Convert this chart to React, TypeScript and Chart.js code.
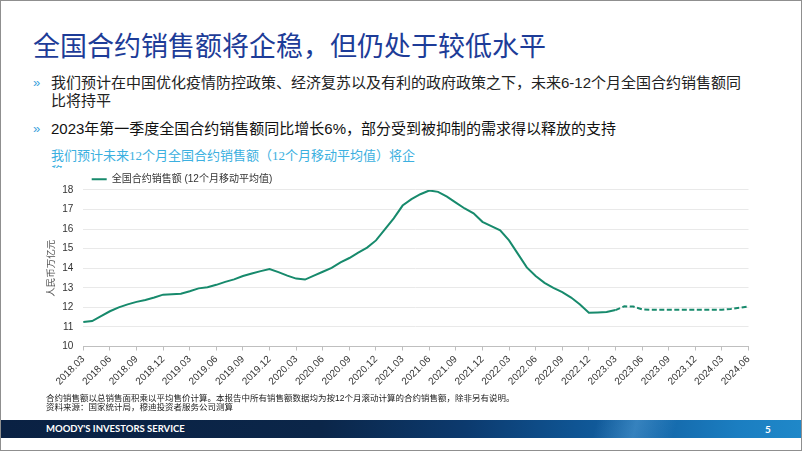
import { useEffect, useRef } from 'react';
import { Chart, registerables } from 'chart.js';

Chart.register(...registerables);

// Monthly categories 2018.03 – 2024.06
const months: string[] = [
  '2018.03', '2018.04', '2018.05', '2018.06', '2018.07', '2018.08', '2018.09', '2018.10', '2018.11', '2018.12',
  '2019.01', '2019.02', '2019.03', '2019.04', '2019.05', '2019.06', '2019.07', '2019.08', '2019.09', '2019.10', '2019.11', '2019.12',
  '2020.01', '2020.02', '2020.03', '2020.04', '2020.05', '2020.06', '2020.07', '2020.08', '2020.09', '2020.10', '2020.11', '2020.12',
  '2021.01', '2021.02', '2021.03', '2021.04', '2021.05', '2021.06', '2021.07', '2021.08', '2021.09', '2021.10', '2021.11', '2021.12',
  '2022.01', '2022.02', '2022.03', '2022.04', '2022.05', '2022.06', '2022.07', '2022.08', '2022.09', '2022.10', '2022.11', '2022.12',
  '2023.01', '2023.02', '2023.03', '2023.04', '2023.05', '2023.06', '2023.07', '2023.08', '2023.09', '2023.10', '2023.11', '2023.12',
  '2024.01', '2024.02', '2024.03', '2024.04', '2024.05', '2024.06',
];

// Actual 12-month moving average, 2018.03 – 2023.03 (RMB trillion)
const actualSales: number[] = [
  11.25, 11.3, 11.55, 11.8, 12.0, 12.15, 12.28, 12.38, 12.5, 12.65,
  12.67, 12.7, 12.82, 12.97, 13.03, 13.15, 13.3, 13.43, 13.6, 13.73, 13.85, 13.96,
  13.8, 13.62, 13.47, 13.42, 13.62, 13.82, 14.02, 14.3, 14.52, 14.8, 15.05, 15.42,
  15.98, 16.55, 17.2, 17.53, 17.78, 17.97, 17.9, 17.66, 17.35, 17.05, 16.8, 16.37,
  16.15, 15.93, 15.42, 14.73, 14.04, 13.6, 13.25, 13.0, 12.78, 12.5, 12.15, 11.72,
  11.74, 11.76, 11.86,
];

// Forecast, 2023.03 – 2024.06
const forecastSales: number[] = [
  11.86, 12.05, 12.04, 11.9, 11.88, 11.88, 11.88, 11.88, 11.88, 11.88, 11.88, 11.88, 11.88, 11.92, 11.98, 12.05,
];

const seriesName = '全国合约销售额 (12个月移动平均值)';
const yAxisTitle = '人民币万亿元';
const yMin = 10;
const yMax = 18;

const LINE = '#178a6c';
const FONT = "'Liberation Sans', 'Noto Sans CJK SC', sans-serif";
const CJK = "'Liberation Sans', 'Noto Sans CJK SC', sans-serif";

export default function App() {
  const ref = useRef<HTMLCanvasElement>(null);

  useEffect(() => {
    document.body.style.margin = '0';
    const canvas = ref.current!;
    const fStart = actualSales.length - 1;
    const actualData = months.map((_, i) => (i < actualSales.length ? actualSales[i] : null));
    const forecastData = months.map((_, i) =>
      i >= fStart && i - fStart < forecastSales.length ? forecastSales[i - fStart] : null
    );

    const chart = new Chart(canvas, {
      type: 'line',
      data: {
        labels: months,
        datasets: [
          {
            label: seriesName,
            data: actualData,
            borderColor: LINE,
            backgroundColor: LINE,
            borderWidth: 2,
            pointRadius: 0,
            tension: 0,
          },
          {
            label: '预测',
            data: forecastData,
            borderColor: LINE,
            backgroundColor: LINE,
            borderWidth: 2,
            borderDash: [5, 2.5],
            pointRadius: 0,
            tension: 0,
          },
        ],
      },
      options: {
        responsive: false,
        animation: false,
        events: [],
        layout: { padding: { top: 3.9, left: 0, right: 10, bottom: 1.5 } },
        plugins: {
          tooltip: { enabled: false },
          legend: {
            display: true,
            position: 'top',
            align: 'start',
            fullSize: false,
            maxHeight: 24,
            labels: {
              filter: (item: any) => item.datasetIndex === 0,
              usePointStyle: true,
              pointStyle: 'line',
              pointStyleWidth: 15,
              padding: 8.4,
              color: '#333',
              font: { family: CJK, size: 10 },
            },
          } as any,
        },
        scales: {
          x: {
            type: 'category',
            offset: false,
            afterFit: (s: any) => {
              s.height = 48;
            },
            grid: {
              display: true,
              drawOnChartArea: false,
              drawTicks: true,
              tickLength: 4,
              color: (c: any) => (c.index % 3 === 0 ? '#bfbfbf' : 'rgba(0,0,0,0)'),
            },
            border: { display: true, color: '#bfbfbf', width: 1 },
            ticks: {
              autoSkip: false,
              maxRotation: 45,
              minRotation: 45,
              padding: 3,
              color: '#333',
              font: { family: FONT, size: 10 },
              callback: (_v: any, i: number) => (i % 3 === 0 ? months[i] : ''),
            },
          },
          y: {
            min: yMin,
            max: yMax,
            afterFit: (s: any) => {
              s.width = 43.3;
            },
            grid: { color: '#e9e9e9', drawTicks: false },
            border: { display: false },
            ticks: {
              stepSize: 1,
              padding: 10,
              color: '#333',
              font: { family: FONT, size: 10 },
            },
            title: {
              display: true,
              text: yAxisTitle,
              color: '#555',
              font: { family: CJK, size: 9.5 },
              padding: { top: 6, bottom: 0 },
            },
          },
        },
      } as any,
    });
    return () => chart.destroy();
  }, []);

  const abs = (s: React.CSSProperties): React.CSSProperties => ({ position: 'absolute', ...s });

  return (
    <div
      style={{
        position: 'relative',
        width: 802,
        height: 451,
        background: '#fff',
        overflow: 'hidden',
        fontFamily: CJK,
      }}
    >
      {/* Title */}
      <div
        style={abs({
          left: 33,
          top: 32,
          fontSize: 27,
          lineHeight: '30px',
          color: '#1d3c98',
          whiteSpace: 'nowrap',
        })}
      >
        全国合约销售额将企稳，但仍处于较低水平
      </div>

      {/* Bullets */}
      <div style={abs({ left: 33, top: 74, fontSize: 13, lineHeight: '18.4px', color: '#3aa3dc' })}>»</div>
      <div
        style={abs({
          left: 51,
          top: 74,
          fontSize: 15,
          lineHeight: '18.4px',
          color: '#222',
          whiteSpace: 'nowrap',
        })}
      >
        我们预计在中国优化疫情防控政策、经济复苏以及有利的政府政策之下，未来6-12个月全国合约销售额同
        <br />
        比将持平
      </div>
      <div style={abs({ left: 33, top: 120, fontSize: 13, lineHeight: '18.4px', color: '#3aa3dc' })}>»</div>
      <div
        style={abs({
          left: 51,
          top: 120,
          fontSize: 15,
          lineHeight: '18.4px',
          color: '#111',
          whiteSpace: 'nowrap',
        })}
      >
        2023年第一季度全国合约销售额同比增长6%，部分受到被抑制的需求得以释放的支持
      </div>

      {/* Chart subtitle (clipped) */}
      <div
        style={abs({
          left: 51,
          top: 148,
          height: 20,
          overflow: 'hidden',
          fontSize: 13,
          lineHeight: '16px',
          color: '#3cb0e0',
          whiteSpace: 'nowrap',
          fontFamily: "'Liberation Serif', 'Noto Sans CJK SC', serif",
        })}
      >
        我们预计未来12个月全国合约销售额（12个月移动平均值）将企
        <br />稳
      </div>

      <canvas
        ref={ref}
        width={720}
        height={234}
        style={abs({ left: 40, top: 162, width: 720, height: 234, background: 'transparent' })}
      />

      {/* Footnotes */}
      <div
        style={abs({
          left: 46,
          top: 394,
          fontSize: 8.5,
          lineHeight: '8.5px',
          color: '#222',
          whiteSpace: 'nowrap',
        })}
      >
        合约销售额以总销售面积乘以平均售价计算。本报告中所有销售额数据均为按12个月滚动计算的合约销售额，除非另有说明。
        <br />
        资料来源：国家统计局，穆迪投资者服务公司测算
      </div>

      {/* Footer bar */}
      <div
        style={abs({
          left: 0,
          top: 420,
          width: 802,
          height: 18,
          background:
            'linear-gradient(90deg, #0a2143 0%, #0b2649 40%, #0c3a6e 58%, #0f5594 72%, #1467a9 82%, #1b7ec1 92%, #1f88c9 100%)',
        })}
      >
        <div
          style={abs({
            left: 0,
            top: 0,
            width: 802,
            height: 18,
            background:
              'linear-gradient(105deg, rgba(255,255,255,0) 74%, rgba(120,190,240,0.35) 79%, rgba(255,255,255,0) 84%)',
          })}
        />
        <div
          style={abs({
            left: 46,
            top: 0,
            lineHeight: '18px',
            fontSize: 9.5,
            fontWeight: 700,
            color: '#fff',
            fontFamily: "Lato, 'Open Sans', sans-serif",
            whiteSpace: 'nowrap',
          })}
        >
          MOODY'S INVESTORS SERVICE
        </div>
        <div
          style={abs({
            left: 765,
            top: 0,
            lineHeight: '18px',
            fontSize: 10,
            fontWeight: 700,
            color: '#fff',
            fontFamily: "Lato, 'Open Sans', sans-serif",
          })}
        >
          5
        </div>
      </div>

      {/* Slide border */}
      <div
        style={abs({
          left: 0,
          top: 0,
          width: 802,
          height: 451,
          boxSizing: 'border-box',
          border: '1px solid #8f8f8f',
          pointerEvents: 'none',
        })}
      />
    </div>
  );
}
